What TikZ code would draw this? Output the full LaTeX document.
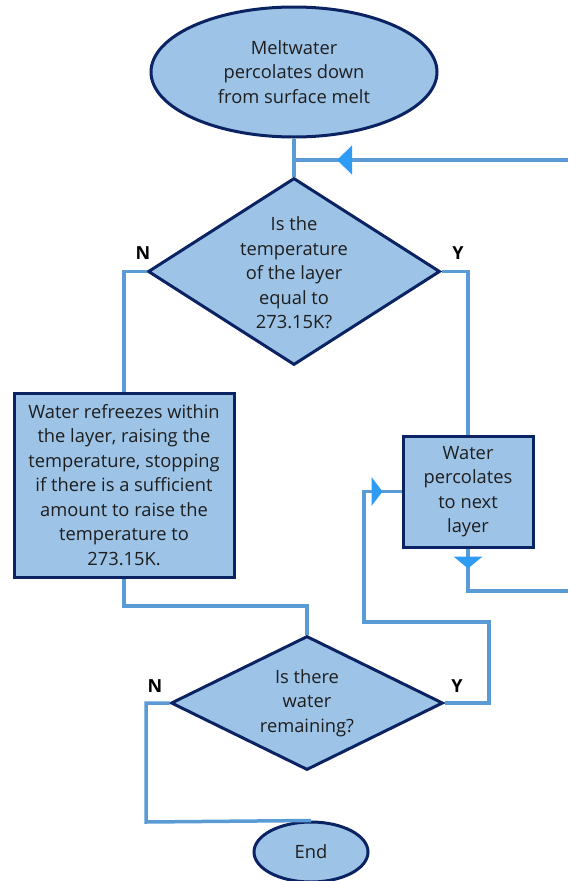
\documentclass[tikz,border=0pt]{standalone}
\usepackage{fontspec}
\setmainfont{Open Sans}
\usetikzlibrary{shapes.geometric,decorations.markings}
\definecolor{boxfill}{HTML}{9DC3E6}
\definecolor{boxline}{HTML}{0B2363}
\definecolor{conn}{HTML}{5B9BD5}
\definecolor{arrowblue}{HTML}{2E9BF5}
\definecolor{txtc}{HTML}{1E1E1E}
\tikzset{
  shapebase/.style={draw=boxline, fill=boxfill, line width=3pt, inner sep=0pt, text=txtc,
    font=\fontsize{18.3}{24.5}\selectfont, align=center},
  term/.style={shapebase, ellipse},
  procbox/.style={shapebase, rectangle},
  dia/.style={shapebase, diamond},
  txt/.style={text=txtc, font=\fontsize{18.3}{24.5}\selectfont, align=center, inner sep=0pt},
  yn/.style={text=black, font=\fontsize{18}{20}\selectfont\bfseries, inner sep=0pt},
  conline/.style={draw=conn, line width=3.5pt},
  midarrow/.style 2 args={postaction={decorate, decoration={markings,
    mark=at position #1 with {\fill[arrowblue] (0,0) -- (-#2,14.5) -- (-#2,-14.5) -- cycle;}}}},
}
\begin{document}
\begin{tikzpicture}[x=1pt,y=-1pt]
\useasboundingbox (0,0) rectangle (568,881);
\coordinate (rt) at (568,160);
\coordinate (jt) at (294,160);
\coordinate (rb) at (568,591);
\coordinate (yr) at (489,622);
\coordinate (yl) at (364,622);
\coordinate (nl) at (146,822);
\coordinate (bj) at (307,606);

\node[term, minimum width=286, minimum height=130] (start) at (294,72) {Meltwater\\percolates down\\from surface melt};
\node[dia, minimum width=292, minimum height=187] (d1) at (294,271.5) {};
\node[txt] at (294,273) {Is the\\temperature\\of the layer\\equal to\\273.15K?};
\node[procbox, minimum width=220, minimum height=184] (b1) at (124,485) {Water refreezes within\\the layer, raising the\\temperature, stopping\\if there is a sufficient\\amount to raise the\\temperature to\\273.15K.};
\node[procbox, minimum width=130, minimum height=111] (b2) at (468,491.5) {Water\\percolates\\to next\\layer};
\node[dia, minimum width=272, minimum height=134] (d2) at (307,703) {};
\node[txt] at (307,703) {Is there\\water\\remaining?};
\node[term, minimum width=114, minimum height=60] (end) at (311,852) {End};

\draw[conline] (start.south) -- (d1.north);
\draw[conline, midarrow={-43pt}{15}] (rt) -- (jt);
\draw[conline] (d1.west) -| (b1.north);
\draw[conline] (d1.east) -| (b2.north);
\draw[conline] (b1.south) |- (bj) -- (d2.north);
\draw[conline, midarrow={20pt}{12}] (b2.south) |- (rb);
\draw[conline, midarrow={-19pt}{11}] (d2.east) -| (yr) -- (yl) |- (b2.west);
\draw[conline] (d2.west) -| (nl) -- (end.north);

\node[yn] (n1) at (143,253) {N};
\node[yn] (y1) at (458,253) {Y};
\node[yn] (n2) at (155,686) {N};
\node[yn] (y2) at (457,686) {Y};
\end{tikzpicture}
\end{document}
